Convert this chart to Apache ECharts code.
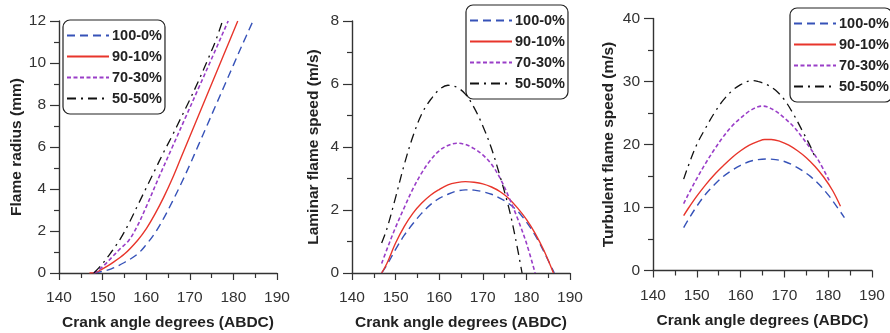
<!DOCTYPE html>
<html>
<head>
<meta charset="utf-8">
<script src="https://cdn.jsdelivr.net/npm/echarts@6/dist/echarts.min.js"></script>
<style>
html,body{margin:0;padding:0;background:#fff;}
#c{width:890px;height:333px;}
</style>
</head>
<body>
<div id="c"></div>
<script>
// ---- Data ----
const seriesNames = ['100-0%', '90-10%', '70-30%', '50-50%'];
const xTicks = [140, 150, 160, 170, 180, 190];

// Panel 1: Flame radius (mm)
const radius_100_0 = [[148,0],[150,0.08],[152,0.2],[155,0.5],[158,0.9],[160,1.35],[162,1.9],[164,2.6],[166,3.4],[168,4.25],[170,5.15],[172,6.1],[174,7.05],[176,8.0],[178,8.95],[180,9.9],[182,10.85],[184.5,12]];
const radius_90_10 = [[147,0],[148.3,0.02],[150,0.2],[152,0.45],[155,0.9],[158,1.55],[160,2.1],[162,2.8],[164,3.6],[166,4.5],[168,5.5],[170,6.5],[172,7.5],[174,8.5],[176,9.5],[178,10.5],[181,12]];
const radius_70_30 = [[148,0],[150,0.3],[152,0.72],[154,1.15],[156,1.55],[158,2.25],[160,3.15],[163,4.6],[166,6.0],[169,7.4],[172,8.8],[175,10.2],[178.8,12]];
const radius_50_50 = [[148,0],[150,0.45],[152,1.0],[154,1.6],[156,2.35],[158,3.2],[160,4.05],[162,4.9],[164,5.75],[166,6.55],[168,7.4],[170,8.25],[172,9.15],[174,10.1],[176,11.1],[177.5,12]];

// Panel 2: Laminar flame speed (m/s)
const laminar_100_0 = [[146.8,0],[148,0.25],[150,0.75],[152,1.2],[154,1.57],[156,1.9],[158,2.17],[160,2.37],[162,2.5],[164,2.6],[166,2.64],[168,2.63],[170,2.58],[172,2.5],[174,2.37],[176,2.2],[178,1.96],[180,1.62],[182,1.2],[184,0.68],[186.4,0]];
const laminar_90_10 = [[146.8,0],[148,0.3],[150,0.95],[152,1.48],[154,1.9],[156,2.22],[158,2.47],[160,2.65],[162,2.8],[164,2.87],[166,2.9],[168,2.88],[170,2.83],[172,2.73],[174,2.58],[176,2.36],[178,2.06],[180,1.7],[182,1.26],[184,0.72],[186.2,0]];
const laminar_70_30 = [[146.8,0.3],[148,0.75],[150,1.45],[152,2.08],[154,2.68],[156,3.18],[158,3.58],[160,3.88],[162,4.05],[164,4.12],[166,4.08],[168,3.95],[170,3.75],[172,3.45],[174,3.0],[176,2.4],[178,1.72],[180,0.95],[182,0]];
const laminar_50_50 = [[146.8,0.95],[148,1.4],[150,2.4],[152,3.45],[154,4.35],[156,5.05],[158,5.5],[160,5.82],[162,5.96],[164,5.9],[166,5.68],[168,5.25],[170,4.67],[172,3.95],[174,3.05],[176,2.05],[177.5,1.1],[179,0]];

// Panel 3: Turbulent flame speed (m/s)
const turb_100_0 = [[147,6.8],[148,8.0],[150,10.2],[152,12.1],[154,13.6],[156,14.9],[158,15.9],[160,16.7],[162,17.3],[164,17.6],[166,17.7],[168,17.6],[170,17.3],[172,16.7],[174,15.9],[176,14.9],[178,13.6],[180,12.0],[182,10.1],[183.7,8.4]];
const turb_90_10 = [[147,8.7],[148,9.8],[150,11.8],[152,13.6],[154,15.2],[156,16.6],[158,17.9],[160,19.0],[162,19.9],[164,20.5],[165.5,20.8],[167,20.8],[169,20.5],[171,19.9],[173,19.0],[175,17.9],[177,16.5],[179,14.8],[181,12.7],[182.8,10.2]];
const turb_70_30 = [[147,10.6],[148,12.0],[150,14.6],[152,17.0],[154,19.2],[156,21.2],[158,22.9],[160,24.2],[162,25.3],[164,26.0],[165,26.1],[166,26.0],[168,25.3],[170,24.2],[172,22.9],[174,21.2],[176,19.3],[178,17.2],[180.5,13.9]];
const turb_50_50 = [[147,14.5],[148,16.5],[150,20.0],[152,22.6],[154,25.0],[156,27.0],[158,28.5],[160,29.5],[162,30.1],[163,30.15],[164,30.0],[166,29.5],[168,28.6],[170,27.1],[172,24.9],[174,22.3],[176,19.6],[177.2,17.6]];

const yTitles = ['Flame radius (mm)', 'Laminar flame speed (m/s)', 'Turbulent flame speed (m/s)'];
const xTitle = 'Crank angle degrees (ABDC)';
const yRanges = [[0, 12, 2], [0, 8, 2], [0, 40, 10]];

const panelData = [
  [radius_100_0, radius_90_10, radius_70_30, radius_50_50],
  [laminar_100_0, laminar_90_10, laminar_70_30, laminar_50_50],
  [turb_100_0, turb_90_10, turb_70_30, turb_50_50]
];

// ---- Styles ----
const FONT = '"Liberation Sans", Arial, Helvetica, sans-serif';
const lineStyles = [
  {color: '#3652b8', width: 1.4, type: [8, 5]},
  {color: '#e8352b', width: 1.4, type: 'solid'},
  {color: '#9a3ec8', width: 1.6, type: [4, 2.5]},
  {color: '#111111', width: 1.3, type: [9, 5, 2, 5]}
];
const grids = [
  {left: 59, top: 21, width: 218, height: 252, outerBoundsMode: 'none', containLabel: false},
  {left: 352, top: 21, width: 218, height: 252, outerBoundsMode: 'none', containLabel: false},
  {left: 653, top: 18.5, width: 219, height: 252, outerBoundsMode: 'none', containLabel: false}
];
const nameGaps = [34, 30, 36];
const legendPos = [
  {left: 63, top: 20},
  {left: 466, top: 5},
  {left: 790, top: 8}
];

const axisLine = {show: true, lineStyle: {color: '#333', width: 1.4}};

const option = {
  animation: false,
  backgroundColor: '#fff',
  grid: grids,
  xAxis: grids.map((g, i) => ({
    type: 'value', gridIndex: i, min: xTicks[0], max: xTicks[xTicks.length - 1], interval: 10,
    name: xTitle, nameLocation: 'middle', nameGap: 42,
    nameTextStyle: {fontFamily: FONT, fontWeight: 'bold', fontSize: 15.5, color: '#222'},
    axisLine: axisLine,
    axisTick: {show: true, inside: false, length: 7, lineStyle: {color: '#333', width: 1.2}},
    minorTick: {show: true, splitNumber: 2, length: 5, lineStyle: {color: '#333', width: 1.2}},
    splitLine: {show: false},
    axisLabel: {fontFamily: FONT, fontSize: 15.5, color: '#333', margin: 17}
  })),
  yAxis: grids.map((g, i) => ({
    type: 'value', gridIndex: i, min: yRanges[i][0], max: yRanges[i][1], interval: yRanges[i][2],
    name: yTitles[i], nameLocation: 'middle', nameGap: nameGaps[i],
    nameTextStyle: {fontFamily: FONT, fontWeight: 'bold', fontSize: 15.5, color: '#222'},
    axisLine: axisLine,
    axisTick: {show: true, inside: false, length: 9, lineStyle: {color: '#333', width: 1.2}},
    minorTick: {show: true, splitNumber: 2, length: 5, lineStyle: {color: '#333', width: 1.2}},
    splitLine: {show: false},
    axisLabel: {fontFamily: FONT, fontSize: 15.5, color: '#333', margin: 13}
  })),
  legend: legendPos.map(p => ({
    left: p.left, top: p.top, orient: 'vertical', data: seriesNames, selectedMode: false,
    itemWidth: 42, itemHeight: 14, itemGap: 6, padding: [8, 3, 8, 3],
    borderColor: '#222', borderWidth: 1.2, borderRadius: 7,
    itemStyle: {opacity: 0, borderWidth: 0},
    textStyle: {fontFamily: FONT, fontWeight: 'bold', fontSize: 14.5, color: '#222', padding: [0, 0, 0, -2]}
  })),
  series: []
};

panelData.forEach((arrs, pi) => {
  arrs.forEach((d, si) => {
    option.series.push({
      name: seriesNames[si], type: 'line', xAxisIndex: pi, yAxisIndex: pi,
      data: d, smooth: 0.35, symbol: 'none', showSymbol: false,
      lineStyle: lineStyles[si], itemStyle: {color: lineStyles[si].color},
      z: 3 + si
    });
  });
});

const chart = echarts.init(document.getElementById('c'), null, {renderer: 'canvas'});
chart.setOption(option);
</script>
</body>
</html>
